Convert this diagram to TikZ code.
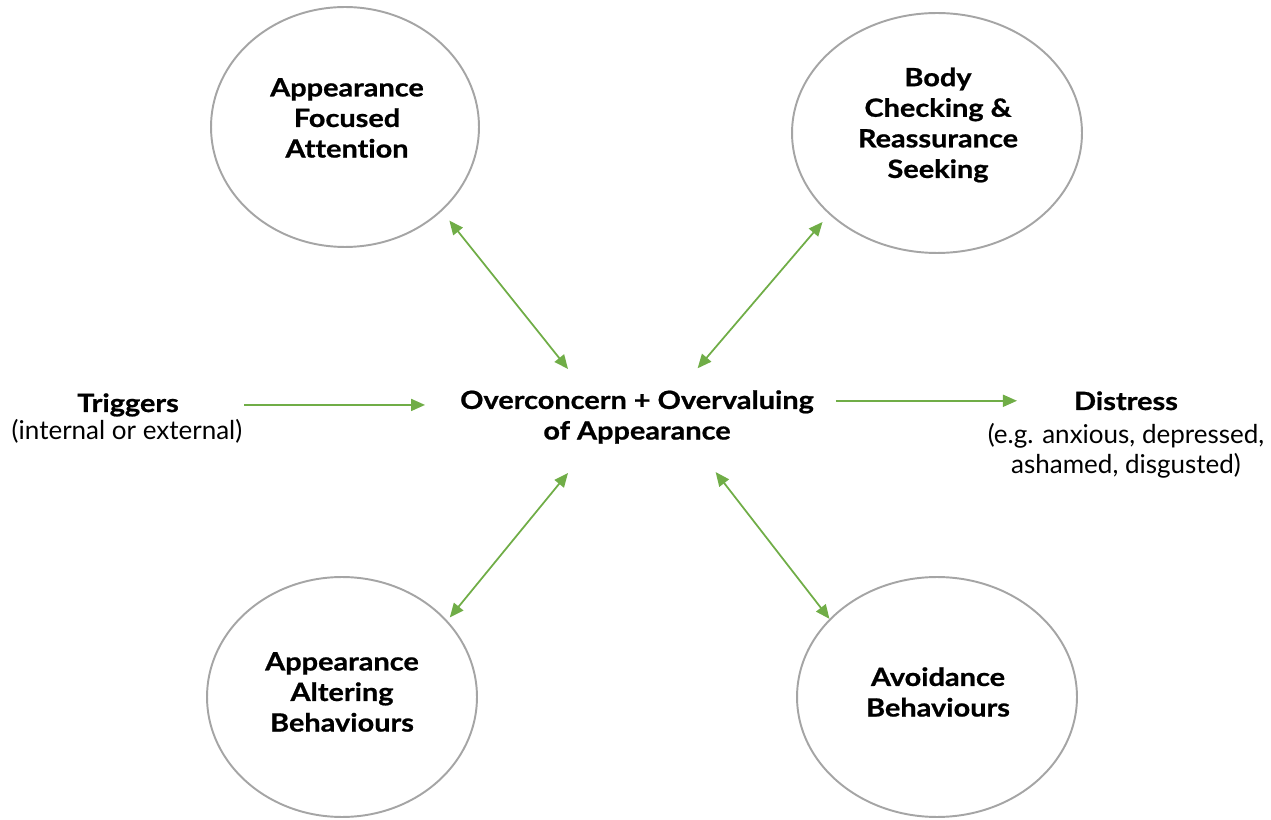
\documentclass[tikz,border=0pt]{standalone}
\usepackage{fontspec}
\setmainfont{Lato}[Ligatures=NoCommon, BoldFeatures={FakeStretch=1.15, FakeBold=0.8}]
\usetikzlibrary{arrows.meta,shapes.geometric}

\definecolor{linkgreen}{HTML}{70AD47}
\definecolor{ringgray}{HTML}{A5A5A5}

\newcommand{\plainsize}{\fontsize{14.8}{17.4}\selectfont}
\newcommand{\boldsize}{\fontsize{14.3}{17.4}\selectfont\bfseries}

\tikzset{
	bubble/.style={ellipse, draw=ringgray, line width=1.1pt, fill=white,
		minimum height=4.8cm},
	hub/.style={ellipse, minimum width=8.48cm, minimum height=2.2cm,
		inner sep=0pt, outer sep=0pt},
	heading/.style={font=\boldsize, align=center},
	link/.style={draw=linkgreen, line width=1pt},
	>={Triangle[length=0.28cm,width=0.24cm]}
}

\begin{document}
\begin{tikzpicture}[x=0.02cm, y=-0.02cm, font=\plainsize]

	% ---- frame

	\useasboundingbox (0,0) rectangle (1271,820);

	% ---- centre

	\node[hub] (core) at (637,421) {};
	\node[heading] (coretxt) at (637,417) {Overconcern + Overvaluing\\of Appearance};

	% ---- bubbles

	\node[bubble, minimum width=5.36cm] (apf) at (345,127) {};
	\node[bubble, minimum width=5.8cm] (bcr) at (937,133) {};
	\node[bubble, minimum width=5.4cm] (aab) at (342,697) {};
	\node[bubble, minimum width=5.6cm] (avb) at (937,697) {};

	\node[heading] (apftxt) at (347,118) {Appearance\\Focused\\Attention};
	\node[heading] (bcrtxt) at (938,125) {Body\\Checking \&\\Reassurance\\Seeking};
	\node[heading] (aabtxt) at (342,692) {Appearance\\Altering\\Behaviours};
	\node[heading] (avbtxt) at (938,692) {Avoidance\\Behaviours};

	% ---- side texts

	\node[heading, anchor=base] (trig) at (128,412) {Triggers};
	\node[anchor=base] (trigsub) at (127,440) {(internal or external)};

	\node[heading, anchor=base] (dis) at (1126,410) {Distress};
	\node[align=center] (dissub) at (1126,451) {(e.g. anxious, depressed,\\ashamed, disgusted)};

	% ---- connectors

	\draw[link, <->, shorten >=0.24cm] (core.143) -- (apf.-41.9);
	\draw[link, <->, shorten >=0.2cm] (core.41.5) -- (bcr.217.1);
	\draw[link, <->, shorten >=0.08cm] (core.217) -- (aab.36.7);
	\draw[link, <->] (core.-33.7) -- (avb.144.3);

	\draw[link, ->, shorten <=-0.08cm] (trigsub.east |- trig) -- (core.west |- trig);
	\draw[link, ->, shorten <=-0.26cm, shorten >=1.02cm] (core.east |- dis) -- (dis.west);

\end{tikzpicture}
\end{document}
